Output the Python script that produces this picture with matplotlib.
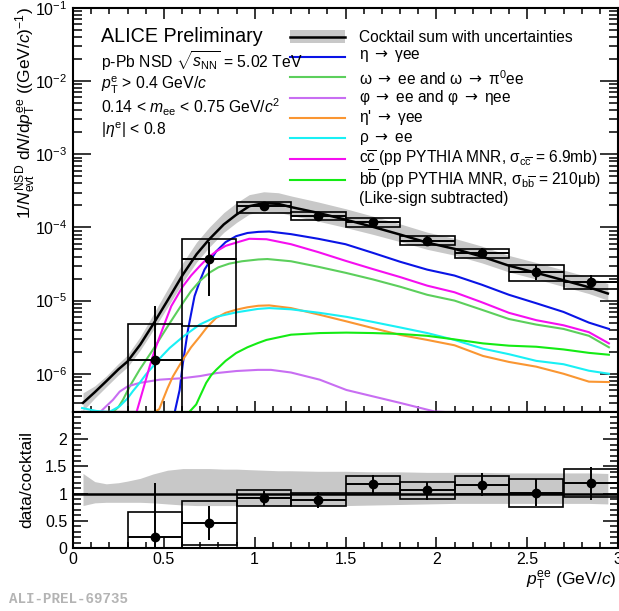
import numpy as np
import matplotlib
matplotlib.use("Agg")
import matplotlib.pyplot as plt
from matplotlib.lines import Line2D
from matplotlib.patches import Rectangle
from matplotlib.ticker import MultipleLocator, LogLocator, NullFormatter, FixedLocator, FormatStrFormatter

plt.rcParams["font.family"] = ["Liberation Sans", "DejaVu Sans"]
plt.rcParams["mathtext.fontset"] = "custom"
plt.rcParams["mathtext.rm"] = "Liberation Sans"
plt.rcParams["mathtext.it"] = "Liberation Sans:italic"
plt.rcParams["mathtext.bf"] = "Liberation Sans:bold"
plt.rcParams["mathtext.sf"] = "DejaVu Sans"
plt.rcParams["axes.unicode_minus"] = False

# ---------------- data ----------------
bin_lo = [0.3, 0.6, 0.9, 1.2, 1.5, 1.8, 2.1, 2.4, 2.7]
bin_w = 0.3
pt_center = [0.45, 0.75, 1.05, 1.35, 1.65, 1.95, 2.25, 2.55, 2.85]

# measured yield with statistical bar ends and systematic box edges
yield_val = [1.55e-6, 3.76e-5, 1.96e-4, 1.44e-4, 1.18e-4, 6.6e-5, 4.5e-5, 2.47e-5, 1.8e-5]
yield_stat_up = [8.5e-6, 6.3e-5, 2.2e-4, 1.64e-4, 1.35e-4, 7.6e-5, 5.3e-5, 3.1e-5, 2.25e-5]
yield_stat_dn = [1e-9, 1.15e-5, 1.73e-4, 1.24e-4, 1.02e-4, 5.7e-5, 3.8e-5, 1.9e-5, 1.4e-5]
yield_sys_lo = [1e-7, 4.45e-6, 1.59e-4, 1.26e-4, 1.02e-4, 5.67e-5, 3.8e-5, 1.84e-5, 1.42e-5]
yield_sys_hi = [4.8e-6, 7.0e-5, 2.25e-4, 1.64e-4, 1.36e-4, 7.6e-5, 5.1e-5, 3.08e-5, 2.15e-5]

# data / cocktail
ratio_val = [0.21, 0.46, 0.92, 0.89, 1.17, 1.06, 1.16, 1.01, 1.20]
ratio_stat_up = [1.20, 0.77, 1.05, 1.03, 1.35, 1.22, 1.37, 1.27, 1.49]
ratio_stat_dn = [0.0, 0.15, 0.78, 0.74, 1.00, 0.89, 0.95, 0.77, 0.89]
ratio_sys_lo = [0.0, 0.05, 0.77, 0.77, 1.01, 0.90, 1.00, 0.75, 0.94]
ratio_sys_hi = [0.67, 0.86, 1.07, 1.01, 1.33, 1.22, 1.32, 1.26, 1.46]

# cocktail sum and its relative uncertainty band
sum_x = [0.055, 0.12, 0.183, 0.25, 0.30, 0.37, 0.44, 0.52, 0.605, 0.68, 0.75, 0.83, 0.90, 0.97,
         1.05, 1.13, 1.20, 1.35, 1.50, 1.65, 1.80, 1.95, 2.10, 2.25, 2.40, 2.55, 2.70, 2.84, 2.944]
sum_y = [4.0e-7, 5.6e-7, 7.9e-7, 1.15e-6, 1.47e-6, 2.5e-6, 4.7e-6, 1.0e-5, 2.27e-5, 4.3e-5, 6.9e-5,
         1.1e-4, 1.5e-4, 1.95e-4, 2.15e-4, 2.1e-4, 1.9e-4, 1.58e-4, 1.28e-4, 1.02e-4, 8.0e-5, 6.2e-5,
         5.1e-5, 4.0e-5, 3.0e-5, 2.4e-5, 1.9e-5, 1.52e-5, 1.25e-5]
band_hi = [1.37, 1.22, 1.18, 1.20, 1.23, 1.28, 1.36, 1.43, 1.46, 1.46, 1.46, 1.45, 1.45, 1.44,
           1.43, 1.42, 1.42, 1.41, 1.41, 1.40, 1.40, 1.39, 1.39, 1.39, 1.38, 1.38, 1.38, 1.38, 1.37]
band_lo = [0.78, 0.83, 0.84, 0.84, 0.84, 0.84, 0.83, 0.81, 0.79, 0.78, 0.78, 0.78, 0.78, 0.78,
           0.78, 0.77, 0.77, 0.77, 0.78, 0.79, 0.80, 0.81, 0.82, 0.82, 0.82, 0.82, 0.82, 0.82, 0.81]

# cocktail components
eta_x = [0.05, 0.56, 0.587, 0.605, 0.633, 0.669, 0.70, 0.724, 0.788, 0.84, 0.898, 0.96, 1.02, 1.08,
         1.20, 1.35, 1.50, 1.65, 1.80, 1.95, 2.10, 2.25, 2.40, 2.55, 2.70, 2.84, 2.95]
eta_y = [1e-7, 3e-7, 6e-7, 1.4e-6, 4e-6, 1.15e-5, 1.9e-5, 2.66e-5, 4.7e-5, 6.3e-5, 7.6e-5, 8.4e-5,
         8.7e-5, 8.8e-5, 8.1e-5, 7.0e-5, 5.9e-5, 4.5e-5, 3.4e-5, 2.65e-5, 2.2e-5, 1.65e-5, 1.2e-5,
         9.2e-6, 7.0e-6, 5.0e-6, 4.1e-6]

omega_x = [0.05, 0.22, 0.25, 0.275, 0.312, 0.367, 0.44, 0.532, 0.605, 0.65, 0.697, 0.75, 0.80, 0.86,
           0.93, 1.02, 1.07, 1.20, 1.35, 1.50, 1.65, 1.80, 1.95, 2.10, 2.25, 2.40, 2.55, 2.70, 2.84, 2.95]
omega_y = [1e-7, 2.5e-7, 3.5e-7, 4.4e-7, 6.7e-7, 1.14e-6, 2.13e-6, 4.9e-6, 9.3e-6, 1.35e-5, 1.84e-5,
           2.4e-5, 2.85e-5, 3.2e-5, 3.45e-5, 3.65e-5, 3.7e-5, 3.45e-5, 2.9e-5, 2.4e-5, 1.95e-5,
           1.55e-5, 1.2e-5, 1.0e-5, 7.5e-6, 5.6e-6, 4.7e-6, 4.1e-6, 3.3e-6, 2.3e-6]

phi_x = [0.05, 0.15, 0.183, 0.22, 0.257, 0.30, 0.367, 0.477, 0.605, 0.70, 0.788, 0.90, 1.018, 1.09,
         1.20, 1.358, 1.505, 1.652, 1.80, 1.99, 2.05, 2.20, 2.60, 2.95]
phi_y = [1e-7, 2.8e-7, 3.6e-7, 4.4e-7, 5.7e-7, 6.7e-7, 7.5e-7, 8.3e-7, 8.7e-7, 9.3e-7, 1.02e-6,
         1.09e-6, 1.13e-6, 1.13e-6, 1.04e-6, 8.3e-7, 6.0e-7, 4.9e-7, 4.0e-7, 3.05e-7, 2.9e-7,
         2.5e-7, 2.0e-7, 1.8e-7]

etap_x = [0.05, 0.45, 0.475, 0.495, 0.52, 0.55, 0.605, 0.65, 0.697, 0.74, 0.788, 0.84, 0.898, 0.96,
          1.02, 1.08, 1.20, 1.358, 1.505, 1.652, 1.80, 1.95, 2.10, 2.257, 2.40, 2.55, 2.70, 2.84, 2.95]
etap_y = [1e-7, 2.5e-7, 3.3e-7, 4.4e-7, 6.3e-7, 9.2e-7, 1.56e-6, 2.3e-6, 3.2e-6, 4.4e-6, 5.8e-6,
          6.8e-6, 7.5e-6, 8.1e-6, 8.5e-6, 8.6e-6, 7.9e-6, 6.4e-6, 5.2e-6, 4.2e-6, 3.4e-6, 2.9e-6,
          2.45e-6, 1.75e-6, 1.45e-6, 1.25e-6, 1.0e-6, 7.8e-7, 7.7e-7]

rho_x = [0.05, 0.128, 0.2, 0.257, 0.30, 0.33, 0.367, 0.40, 0.44, 0.49, 0.532, 0.605, 0.697, 0.788,
         0.898, 1.018, 1.08, 1.20, 1.358, 1.505, 1.652, 1.80, 1.95, 2.10, 2.257, 2.40, 2.55, 2.70,
         2.84, 2.95]
rho_y = [3.4e-7, 3.1e-7, 2.9e-7, 3.6e-7, 4.6e-7, 5.8e-7, 7.5e-7, 9.7e-7, 1.26e-6, 1.75e-6, 2.25e-6,
         3.2e-6, 4.7e-6, 6.0e-6, 6.9e-6, 7.7e-6, 7.9e-6, 7.6e-6, 6.8e-6, 6.0e-6, 5.1e-6, 4.3e-6,
         3.6e-6, 2.9e-6, 2.2e-6, 1.85e-6, 1.5e-6, 1.35e-6, 1.1e-6, 1.0e-6]

ccbar_x = [0.05, 0.35, 0.385, 0.422, 0.45, 0.477, 0.51, 0.541, 0.605, 0.65, 0.697, 0.74, 0.788, 0.84,
           0.898, 0.97, 1.065, 1.20, 1.35, 1.50, 1.65, 1.80, 1.95, 2.10, 2.25, 2.40, 2.55, 2.70,
           2.84, 2.95]
ccbar_y = [1e-7, 2.5e-7, 6e-7, 1.26e-6, 2.1e-6, 3.2e-6, 5.3e-6, 8.4e-6, 1.57e-5, 2.2e-5, 2.95e-5,
           3.8e-5, 4.7e-5, 5.6e-5, 6.2e-5, 7.0e-5, 6.9e-5, 5.9e-5, 4.6e-5, 3.5e-5, 2.7e-5, 2.1e-5,
           1.6e-5, 1.3e-5, 9.5e-6, 6.8e-6, 5.4e-6, 4.6e-6, 3.7e-6, 2.6e-6]

bbbar_x = [0.05, 0.64, 0.678, 0.70, 0.733, 0.76, 0.788, 0.84, 0.898, 0.96, 1.018, 1.065, 1.20,
           1.358, 1.505, 1.652, 1.80, 1.95, 2.10, 2.257, 2.40, 2.55, 2.70, 2.84, 2.95]
bbbar_y = [1e-7, 2.5e-7, 3.8e-7, 5.0e-7, 7.5e-7, 9.5e-7, 1.13e-6, 1.5e-6, 1.92e-6, 2.3e-6,
           2.63e-6, 2.9e-6, 3.42e-6, 3.6e-6, 3.65e-6, 3.6e-6, 3.5e-6, 3.3e-6, 2.95e-6, 2.6e-6,
           2.42e-6, 2.34e-6, 2.15e-6, 1.93e-6, 1.82e-6]

ARROW = r" $\mathsf{\rightarrow}$ "
component_labels = [
    "η" + ARROW + "γee",
    "ω" + ARROW + "ee and ω" + ARROW + r"π$^{0}$ee",
    "φ" + ARROW + "ee and φ" + ARROW + "ηee",
    "η'" + ARROW + "γee",
    "ρ" + ARROW + "ee",
    r"c$\overline{\rm c}$ (pp PYTHIA MNR, σ$_{\rm c\overline{c}}$ = 6.9mb)",
    r"b$\overline{\rm b}$ (pp PYTHIA MNR, σ$_{\rm b\overline{b}}$ = 210μb)",
]
component_colors = ["#0a14e6", "#5ccf5c", "#c86ef2", "#fa9632", "#19f0f5", "#f50ff0", "#14eb14"]
components = [(eta_x, eta_y), (omega_x, omega_y), (phi_x, phi_y), (etap_x, etap_y),
              (rho_x, rho_y), (ccbar_x, ccbar_y), (bbbar_x, bbbar_y)]

# ---------------- figure ----------------
W, H = 619, 611
fig = plt.figure(figsize=(W / 100, H / 100), dpi=100)


def fx(px):
    return px / W


def fy(py):
    return 1 - py / H


L, R, T, MID, B = 73, 618, 8, 412, 548
ax = fig.add_axes([fx(L), fy(MID), fx(R) - fx(L), fy(T) - fy(MID)])
axr = fig.add_axes([fx(L), fy(B), fx(R) - fx(L), fy(MID) - fy(B)])

YMIN, YMAX = 3e-7, 1e-1
band_col = "#c8c8c8"

# --- top panel ---
sx = np.array(sum_x)
sy = np.array(sum_y)
ax.fill_between(sx, sy * np.array(band_lo), sy * np.array(band_hi), color=band_col,
                lw=0, zorder=1)
for (cx, cy), col in zip(components, component_colors):
    ax.plot(cx, np.maximum(np.array(cy), YMIN), color=col, lw=1.5, zorder=3,
            solid_joinstyle="round")
ax.plot(sx, sy, color="black", lw=1.8, zorder=4)

for lo, slo, shi in zip(bin_lo, yield_sys_lo, yield_sys_hi):
    ax.add_patch(Rectangle((lo, slo), bin_w, shi - slo, fill=False, ec="black", lw=1.2,
                           zorder=5))
yv = np.array(yield_val)
ax.errorbar(pt_center, yv, yerr=[yv - np.array(yield_stat_dn), np.array(yield_stat_up) - yv],
            xerr=bin_w / 2, fmt="o", color="black", ms=6, elinewidth=1.4, capsize=0, zorder=6)

ax.set_yscale("log")
ax.set_xlim(0, 3)
ax.set_ylim(YMIN, YMAX)
ax.yaxis.set_major_locator(LogLocator(base=10, numticks=20))
ax.yaxis.set_minor_locator(LogLocator(base=10, subs=np.arange(2, 10), numticks=20))
ax.yaxis.set_minor_formatter(NullFormatter())
ax.xaxis.set_major_locator(MultipleLocator(0.5))
ax.xaxis.set_minor_locator(MultipleLocator(0.1))
ax.tick_params(axis="x", labelbottom=False)
ax.tick_params(which="both", direction="in", top=True, right=True, width=1.1, labelsize=11.5)
ax.tick_params(axis="y", which="major", length=13, pad=4)
ax.tick_params(axis="y", which="minor", length=6.5)
ax.tick_params(axis="x", which="major", length=8)
ax.tick_params(axis="x", which="minor", length=4)

# --- ratio panel ---
axr.fill_between(sx, band_lo, band_hi, color=band_col, lw=0, zorder=1)
axr.axhline(1.0, color="black", lw=1.8, zorder=3)
for lo, slo, shi in zip(bin_lo, ratio_sys_lo, ratio_sys_hi):
    axr.add_patch(Rectangle((lo, slo), bin_w, shi - slo, fill=False, ec="black", lw=1.2,
                            zorder=5))
rv = np.array(ratio_val)
axr.errorbar(pt_center, rv, yerr=[rv - np.array(ratio_stat_dn), np.array(ratio_stat_up) - rv],
             xerr=bin_w / 2, fmt="o", color="black", ms=6, elinewidth=1.4, capsize=0, zorder=6)
axr.set_xlim(0, 3)
axr.set_ylim(0, 2.5)
axr.yaxis.set_major_locator(FixedLocator([0, 0.5, 1, 1.5, 2]))
axr.yaxis.set_minor_locator(MultipleLocator(0.1))
axr.yaxis.set_major_formatter(FormatStrFormatter("%g"))
axr.xaxis.set_major_locator(MultipleLocator(0.5))
axr.xaxis.set_minor_locator(MultipleLocator(0.1))
axr.xaxis.set_major_formatter(FormatStrFormatter("%g"))
axr.tick_params(which="both", direction="in", top=False, right=True, width=1.1, labelsize=11.5)
axr.tick_params(axis="y", which="major", length=11, pad=4)
axr.tick_params(axis="y", which="minor", length=5.5)
axr.tick_params(axis="x", which="major", length=8, pad=3)
axr.tick_params(axis="x", which="minor", length=4)

for a in (ax, axr):
    for sp in a.spines.values():
        sp.set_linewidth(1.5)

# --- axis titles ---
fig.text(fx(26), fy(7), r"$1/N_{\rm evt}^{\rm NSD}\ {\rm d}N/{\rm d}p_{\rm T}^{\rm ee}$ ((GeV/$c$)$^{-1}$)",
         rotation=90, ha="center", va="top", fontsize=12.5)
fig.text(fx(27), fy(480), "data/cocktail", rotation=90, ha="center", va="center", fontsize=12.5)
fig.text(fx(616), fy(585), r"$p_{\rm T}^{\rm ee}$ (GeV/$c$)", ha="right", va="baseline",
         fontsize=12.5)
fig.text(fx(9), fy(603), "ALI-PREL-69735", ha="left", va="baseline", fontsize=10.2,
         family=["Liberation Mono", "DejaVu Sans Mono"], fontweight="bold", color="#b4b4b4")

# --- physics labels ---
fig.text(fx(101), fy(42), "ALICE Preliminary", fontsize=14.2, va="baseline")
info_lines = [
    (68, r"p-Pb NSD $\sqrt{s_{\rm NN}}$ = 5.02 TeV"),
    (90, r"$p_{\rm T}^{\rm e}$ > 0.4 GeV/$c$"),
    (113, r"0.14 < $m_{\rm ee}$ < 0.75 GeV/$c^{2}$"),
    (135, r"|$\eta^{\rm e}$| < 0.8"),
]
for py, txt in info_lines:
    fig.text(fx(101), fy(py), txt, fontsize=11.3, va="baseline")

# --- legend ---
kx0, kx1, tx = 290, 345, 359
fig.add_artist(Rectangle((fx(kx0), fy(42.5)), fx(kx1) - fx(kx0), fy(30.5) - fy(42.5),
                         transform=fig.transFigure, color=band_col, lw=0))
fig.add_artist(Line2D([fx(kx0), fx(kx1)], [fy(36.5), fy(36.5)], transform=fig.transFigure,
                      color="black", lw=1.8))
fig.text(fx(tx), fy(41.7), "Cocktail sum with uncertainties", fontsize=11.2, va="baseline")

key_y = [56.7, 77.3, 97.7, 118.3, 138.3, 159.3, 180.0]
text_base = [59.3, 85.3, 102.3, 121.7, 141.7, 163.3, 185.0]
for ky, tb, lab, col in zip(key_y, text_base, component_labels, component_colors):
    fig.add_artist(Line2D([fx(kx0), fx(kx1)], [fy(ky), fy(ky)], transform=fig.transFigure,
                          color=col, lw=1.5))
    fig.text(fx(tx), fy(tb), lab, fontsize=11.2, va="baseline")
fig.text(fx(tx), fy(203), "(Like-sign subtracted)", fontsize=11.2, va="baseline")

fig.savefig("out.png", dpi=100)
